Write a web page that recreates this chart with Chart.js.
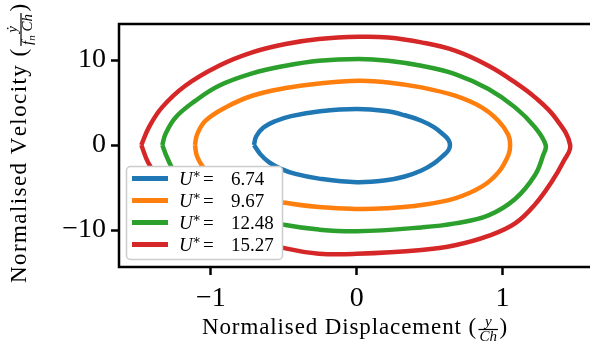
<!DOCTYPE html>
<html>
<head>
<meta charset="utf-8">
<script src="https://cdn.jsdelivr.net/npm/chart.js@4"></script>
<style>
  body { margin: 0; background: #fff; }
  #wrap { width: 590px; height: 343px; }
</style>
</head>
<body>
<div id="wrap"><canvas id="phaseChart" width="590" height="343"></canvas></div>
<script>
// reduced velocity of each run (legend labels)
const uStar = ['6.74', '9.67', '12.48', '15.27'];

// displacement / velocity pairs, going round each loop
const disp674 = [-0.705, -0.69, -0.64, -0.56, -0.45, -0.25, 0, 0.2, 0.33, 0.444, 0.53, 0.59, 0.63, 0.64,
  0.63, 0.59, 0.53, 0.444, 0.33, 0.2, 0, -0.259, -0.42, -0.52, -0.6, -0.66, -0.705];
const vel674 = [0, 1.0, 2.05, 2.8, 3.4, 3.98, 4.25, 4.0, 3.5, 2.86, 2.1, 1.3, 0.6, 0,
  -0.6, -1.3, -2.15, -3.0, -3.7, -4.15, -4.37, -3.95, -3.4, -2.8, -2.05, -1.1, 0];

const disp967 = [-1.11, -1.094, -1.037, -0.899, -0.717, -0.488, -0.259, 0.015, 0.216, 0.444, 0.675, 0.858, 0.972, 1.04, 1.053,
  1.041, 0.972, 0.858, 0.675, 0.444, 0.2, 0, -0.259, -0.488, -0.717, -0.899, -1.037, -1.094, -1.11];
const vel967 = [0, 1.29, 2.86, 4.43, 5.8, 6.7, 7.25, 7.57, 7.37, 6.78, 5.8, 4.43, 2.86, 1.2, 0,
  -1.18, -3.22, -4.9, -6.27, -7.06, -7.45, -7.53, -7.3, -6.8, -5.9, -4.5, -2.9, -1.4, 0];

const disp1248 = [-1.334, -1.312, -1.243, -1.106, -0.945, -0.717, -0.488, -0.259, 0.015, 0.216, 0.444, 0.675, 0.904, 1.087, 1.224, 1.297,
  1.28, 1.224, 1.087, 0.904, 0.675, 0.444, 0, -0.259, -0.488, -0.717, -0.945, -1.106, -1.243, -1.3, -1.334];
const vel1248 = [0, 1.29, 3.25, 5.22, 6.98, 8.43, 9.33, 9.92, 10.12, 9.92, 9.33, 8.35, 6.59, 4.43, 2.08, 0,
  -1.18, -3.53, -6.35, -8.27, -9.22, -9.69, -10.15, -9.95, -9.41, -8.5, -7.0, -5.25, -3.3, -1.5, 0];

const disp1527 = [-1.478, -1.426, -1.336, -1.176, -0.945, -0.717, -0.488, -0.259, 0.015, 0.216, 0.444, 0.675, 0.904, 1.087, 1.224, 1.361, 1.465,
  1.418, 1.338, 1.224, 1.087, 0.904, 0.675, 0.444, 0, -0.259, -0.488, -0.717, -0.945, -1.176, -1.336, -1.43, -1.478];
const vel1527 = [0, 2.08, 4.43, 6.98, 9.33, 10.9, 11.88, 12.47, 12.74, 12.66, 12.08, 11.1, 9.33, 7.37, 5.61, 3.25, 0,
  -1.96, -4.31, -6.98, -9.22, -10.7, -11.8, -12.35, -12.8, -12.78, -12.16, -10.95, -9.35, -7.0, -4.45, -2.08, 0];

const xTicks = [-1, 0, 1];
const yTicks = [-10, 0, 10];

const palette = ['#1f77b4', '#ff7f0e', '#2ca02c', '#d62728'];
const serif = '"Liberation Serif", "DejaVu Serif", serif';

const loops = [[disp674, vel674], [disp967, vel967], [disp1248, vel1248], [disp1527, vel1527]];

const datasets = loops.map(([xs, ys], i) => ({
  label: uStar[i],
  data: xs.map((x, k) => ({ x: x, y: ys[k] })),
  showLine: true,
  borderColor: palette[i],
  backgroundColor: palette[i],
  borderWidth: 4.5,
  borderJoinStyle: 'round',
  pointRadius: 0,
  tension: 0.4,
  fill: false
}));

const minusFmt = v => (v < 0 ? '\u2212' + Math.abs(v) : String(v));

function partWidth(ctx, parts) {
  let w = 0;
  parts.forEach(p => { ctx.font = p.font; w += ctx.measureText(p.text).width; });
  return w;
}

function fracWidth(ctx, r) {
  return Math.max(partWidth(ctx, r.num), partWidth(ctx, r.den)) + 2;
}

function drawParts(ctx, parts, x, y) {
  parts.forEach(p => {
    ctx.font = p.font;
    ctx.fillText(p.text, x, y + (p.dy || 0));
    x += ctx.measureText(p.text).width;
  });
}

// title made of text runs and one fraction, stretched a little to the wanted width
function drawTitle(ctx, runs, cx, baseline, target) {
  let natural = 0, chars = 0;
  runs.forEach(r => {
    if (r.frac) {
      natural += fracWidth(ctx, r) + 3;
    } else {
      ctx.font = r.font;
      natural += ctx.measureText(r.text).width;
      chars += r.text.length;
    }
  });
  const gap = Math.max(0, (target - natural) / chars);
  let x = cx - (natural + gap * chars) / 2;
  ctx.textAlign = 'left';
  ctx.textBaseline = 'alphabetic';
  runs.forEach(r => {
    if (r.frac) {
      const fw = fracWidth(ctx, r);
      const bar = baseline - 4.5;
      x += 1.5;
      drawParts(ctx, r.num, x + (fw - partWidth(ctx, r.num)) / 2, bar - 4);
      drawParts(ctx, r.den, x + (fw - partWidth(ctx, r.den)) / 2, bar + 11);
      ctx.fillRect(x, bar - 0.6, fw, 1.2);
      x += fw + 1.5;
    } else {
      ctx.font = r.font;
      for (const ch of r.text) {
        ctx.fillText(ch, x, baseline);
        x += ctx.measureText(ch).width + gap;
      }
    }
  });
}

const titleFont = '23px ' + serif;
const fracItal = 'italic 15px ' + serif;
const xTitle = [
  { text: 'Normalised Displacement (', font: titleFont },
  { frac: true, num: [{ text: 'y', font: fracItal }], den: [{ text: 'Ch', font: fracItal }] },
  { text: ')', font: titleFont }
];
const yTitle = [
  { text: 'Normalised Velocity (', font: titleFont },
  { frac: true, num: [{ text: '\u1E8F', font: fracItal }],
    den: [{ text: 'f', font: fracItal }, { text: 'n', font: 'italic 11px ' + serif, dy: 3 }, { text: ' Ch', font: fracItal }] },
  { text: ')', font: titleFont }
];

const decorations = {
  id: 'decorations',
  afterDatasetsDraw(chart) {
    const { ctx, chartArea: a } = chart;
    ctx.save();

    // legend box
    ctx.beginPath();
    ctx.roundRect(126.5, 166.5, 156, 93, 4);
    ctx.fillStyle = '#ffffff';
    ctx.fill();
    ctx.strokeStyle = '#cccccc';
    ctx.lineWidth = 1.5;
    ctx.stroke();
    chart.data.datasets.forEach((ds, i) => {
      const ry = 178.5 + i * 22;
      ctx.strokeStyle = ds.borderColor;
      ctx.lineWidth = 5;
      ctx.beginPath();
      ctx.moveTo(132, ry);
      ctx.lineTo(168, ry);
      ctx.stroke();
      ctx.fillStyle = '#000';
      ctx.textAlign = 'left';
      ctx.textBaseline = 'alphabetic';
      const tx = 179, by = ry + 6;
      ctx.font = 'italic 19px ' + serif;
      ctx.fillText('U', tx, by);
      const uw = ctx.measureText('U').width;
      ctx.font = '13px ' + serif;
      ctx.fillText('\u2217', tx + uw - 0.5, by - 7);
      ctx.font = '19px ' + serif;
      ctx.fillText('=', tx + 24, by);
      ctx.fillText(ds.label, tx + 52, by);
    });

    // spines (no right one, it falls on the edge)
    ctx.strokeStyle = '#000';
    ctx.lineWidth = 2.5;
    ctx.beginPath();
    ctx.moveTo(a.right, a.top);
    ctx.lineTo(a.left, a.top);
    ctx.lineTo(a.left, a.bottom);
    ctx.lineTo(a.right, a.bottom);
    ctx.stroke();

    // axis titles
    ctx.fillStyle = '#000';
    drawTitle(ctx, xTitle, 355, 334, 306);
    ctx.translate(25.5, 144);
    ctx.rotate(-Math.PI / 2);
    drawTitle(ctx, yTitle, 0, 0, 278);
    ctx.restore();
  }
};

const tickFont = { family: serif, size: 28 };

new Chart(document.getElementById('phaseChart'), {
  type: 'scatter',
  data: { datasets: datasets },
  options: {
    responsive: false,
    animation: false,
    devicePixelRatio: 1,
    layout: { padding: { top: 24, right: 0, left: 0, bottom: 0 } },
    plugins: { legend: { display: false }, tooltip: { enabled: false } },
    scales: {
      x: {
        type: 'linear',
        min: -1.631,
        max: 1.601,
        afterFit: s => { s.height = 76; },
        afterBuildTicks: s => { s.ticks = xTicks.map(v => ({ value: v })); },
        ticks: { color: '#000', font: tickFont, padding: 7, maxRotation: 0, callback: minusFmt },
        grid: { drawOnChartArea: false, tickLength: 8, tickWidth: 2.5, tickColor: '#000' },
        border: { display: false }
      },
      y: {
        type: 'linear',
        min: -14.35,
        max: 14.24,
        afterFit: s => { s.width = 119; },
        afterBuildTicks: s => { s.ticks = yTicks.map(v => ({ value: v })); },
        ticks: { color: '#000', font: tickFont, padding: 5, callback: minusFmt },
        grid: { drawOnChartArea: false, tickLength: 8, tickWidth: 2.5, tickColor: '#000' },
        border: { display: false }
      }
    }
  },
  plugins: [decorations]
});
</script>
</body>
</html>
